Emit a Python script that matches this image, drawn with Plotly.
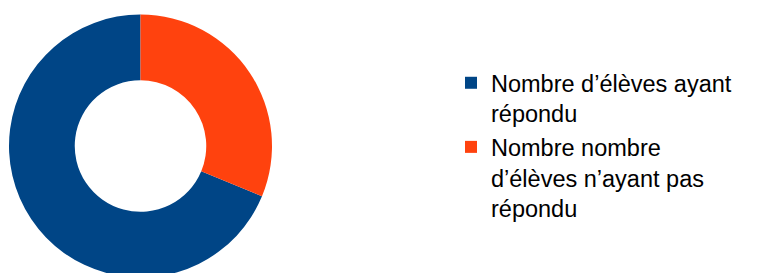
import plotly.graph_objects as go

labels = ["Nombre d’élèves ayant<br>répondu", "Nombre nombre<br>d’élèves n’ayant pas<br>répondu"]
values = [22, 10]
colors = ["#004586", "#ff420e"]

W, H = 757, 273

fig = go.Figure(go.Pie(
    labels=labels,
    values=values,
    hole=0.5,
    sort=False,
    direction="clockwise",
    rotation=112.5,
    marker=dict(colors=colors, line=dict(width=0)),
    textinfo="none",
    hoverinfo="label+value",
    domain=dict(x=[1/W, 264/W], y=[3.5/H, 266.5/H]),
))

fig.update_layout(
    width=W,
    height=H,
    margin=dict(l=0, r=0, t=0, b=0),
    paper_bgcolor="white",
    plot_bgcolor="white",
    font=dict(family="Liberation Sans, Arial, sans-serif", size=23.5, color="#000000"),
    legend=dict(
        x=443/W, y=(H-53)/H, xanchor="left", yanchor="top",
        font=dict(size=23.5),
        valign="top",
        itemwidth=30,
    ),
)

fig.write_html("out.html")
